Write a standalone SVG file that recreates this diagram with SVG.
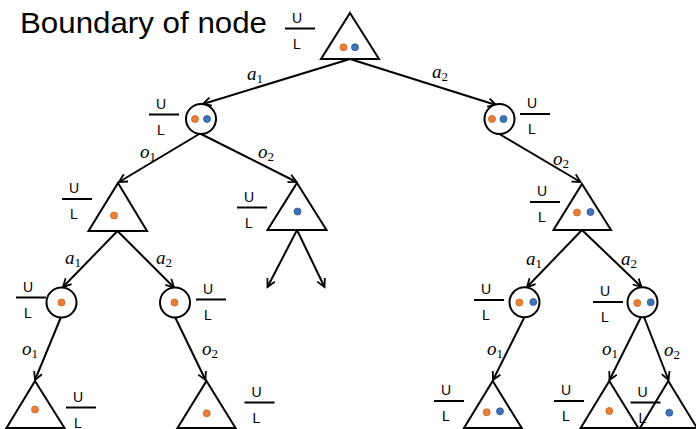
<svg xmlns="http://www.w3.org/2000/svg" width="696" height="429" viewBox="0 0 696 429">
<defs>
<style>
.nd{fill:#fff;stroke:#000;stroke-width:2;stroke-linejoin:miter}
.c{stroke:#000;stroke-width:2;fill:none;marker-end:url(#ah)}
.or{fill:#E8803A;stroke:#C8621E;stroke-width:0.8}
.bl{fill:#3F73B8;stroke:#2B5590;stroke-width:0.8}
.ul line{stroke:#000;stroke-width:2}
.ul text{font-family:"Liberation Sans",Arial,sans-serif;font-size:14px;text-anchor:middle;fill:#000}
.lb{font-family:"Liberation Serif","Times New Roman",serif;font-style:italic;font-size:19px;fill:#000}
.lb tspan.s{font-style:normal;font-size:13px}
.title{font-family:"Liberation Sans",Arial,sans-serif;font-size:30px;fill:#000}
</style>
<marker id="ah" markerUnits="userSpaceOnUse" markerWidth="12" markerHeight="12" refX="9" refY="5" orient="auto">
<path d="M1,0.8 L9,5 L1,9.2" fill="none" stroke="#000" stroke-width="1.8"/>
</marker>
<g id="ulT" class="ul"><line x1="-15" y1="0" x2="15" y2="0"/><text x="-3" y="-6">U</text><text x="-3" y="20">L</text></g>
</defs>
<rect width="696" height="429" fill="#fff"/>
<text class="title" x="20" y="33" textLength="247" lengthAdjust="spacingAndGlyphs">Boundary of node</text>

<g id="connectors">
<line class="c" x1="350" y1="59" x2="203" y2="104"/>
<line class="c" x1="350" y1="59" x2="496" y2="105"/>
<line class="c" x1="200" y1="133.5" x2="119" y2="182"/>
<line class="c" x1="200" y1="133.5" x2="296.5" y2="182"/>
<line class="c" x1="498.5" y1="133.5" x2="580.5" y2="182"/>
<line class="c" x1="117.5" y1="231" x2="63" y2="287"/>
<line class="c" x1="117.5" y1="231" x2="174" y2="287.5"/>
<line class="c" x1="297" y1="230" x2="267.5" y2="287"/>
<line class="c" x1="297" y1="230" x2="324.5" y2="287"/>
<line class="c" x1="582" y1="230" x2="527" y2="287"/>
<line class="c" x1="582" y1="230" x2="641.5" y2="287"/>
<line class="c" x1="61" y1="317" x2="35" y2="380"/>
<line class="c" x1="175" y1="317" x2="205.5" y2="380"/>
<line class="c" x1="524.5" y1="317" x2="493" y2="380"/>
<line class="c" x1="641" y1="317" x2="609.5" y2="380"/>
<line class="c" x1="644" y1="317" x2="668.5" y2="380"/>
</g>

<g id="labels">
<text class="lb" x="247" y="80">a<tspan class="s" dy="3">1</tspan></text>
<text class="lb" x="432" y="78">a<tspan class="s" dy="3">2</tspan></text>
<text class="lb" x="140" y="158">o<tspan class="s" dy="3">1</tspan></text>
<text class="lb" x="258" y="158">o<tspan class="s" dy="3">2</tspan></text>
<text class="lb" x="553" y="165">o<tspan class="s" dy="3">2</tspan></text>
<text class="lb" x="65" y="264">a<tspan class="s" dy="3">1</tspan></text>
<text class="lb" x="156" y="264">a<tspan class="s" dy="3">2</tspan></text>
<text class="lb" x="526" y="265">a<tspan class="s" dy="3">1</tspan></text>
<text class="lb" x="621" y="265">a<tspan class="s" dy="3">2</tspan></text>
<text class="lb" x="22" y="355">o<tspan class="s" dy="3">1</tspan></text>
<text class="lb" x="202" y="355">o<tspan class="s" dy="3">2</tspan></text>
<text class="lb" x="487" y="355">o<tspan class="s" dy="3">1</tspan></text>
<text class="lb" x="602" y="355">o<tspan class="s" dy="3">1</tspan></text>
<text class="lb" x="664" y="356">o<tspan class="s" dy="3">2</tspan></text>
</g>

<g id="n-root">
<polygon class="nd" points="350,13 379,59 321,59"/>
<circle class="or" cx="343.5" cy="47.3" r="3.5"/><circle class="bl" cx="355" cy="47.3" r="3.5"/>
<use href="#ulT" x="300" y="28.5"/>
</g>
<g id="n-o-left">
<circle class="nd" cx="201" cy="119" r="15"/>
<circle class="or" cx="195" cy="119" r="3.5"/><circle class="bl" cx="207" cy="119" r="3.5"/>
<use href="#ulT" x="164" y="114.5"/>
</g>
<g id="n-o-right">
<circle class="nd" cx="499.5" cy="119" r="15"/>
<circle class="or" cx="492" cy="119" r="3.5"/><circle class="bl" cx="503.5" cy="119" r="3.5"/>
<use href="#ulT" x="535" y="114"/>
</g>
<g id="n-t2a">
<polygon class="nd" points="118,183 147,231 88.5,231"/>
<circle class="or" cx="114" cy="215.5" r="3.5"/>
<use href="#ulT" x="77" y="199"/>
</g>
<g id="n-t2b">
<polygon class="nd" points="297,183 326.5,230 267.5,230"/>
<circle class="bl" cx="297.5" cy="211.5" r="3.5"/>
<use href="#ulT" x="252" y="207.5"/>
</g>
<g id="n-t2c">
<polygon class="nd" points="582,184 611,230 553.5,230"/>
<circle class="or" cx="577" cy="212.5" r="3.5"/><circle class="bl" cx="590.5" cy="212" r="3.5"/>
<use href="#ulT" x="545" y="202"/>
</g>
<g id="n-c3a">
<circle class="nd" cx="61.5" cy="302.5" r="15"/>
<circle class="or" cx="61.5" cy="302.5" r="3.5"/>
<use href="#ulT" x="31" y="297.5"/>
</g>
<g id="n-c3b">
<circle class="nd" cx="175" cy="302.5" r="15"/>
<circle class="or" cx="174.5" cy="302.5" r="3.5"/>
<use href="#ulT" x="211" y="299.5"/>
</g>
<g id="n-c3c">
<circle class="nd" cx="524.5" cy="302.3" r="15"/>
<circle class="or" cx="519.3" cy="302.5" r="3.5"/><circle class="bl" cx="533.3" cy="302" r="3.5"/>
<use href="#ulT" x="489" y="300"/>
</g>
<g id="n-c3d">
<circle class="nd" cx="642.5" cy="302.3" r="15"/>
<circle class="or" cx="637.3" cy="303" r="3.5"/><circle class="bl" cx="650.7" cy="302.3" r="3.5"/>
<use href="#ulT" x="608" y="302"/>
</g>
<g id="n-b1">
<polygon class="nd" points="35,381 64.5,428 6.5,428"/>
<circle class="or" cx="35" cy="409.5" r="3.5"/>
<use href="#ulT" x="81" y="407.5"/>
</g>
<g id="n-b2">
<polygon class="nd" points="206.5,381 235.5,428 177.5,428"/>
<circle class="or" cx="206.7" cy="413.3" r="3.5"/>
<use href="#ulT" x="259.5" y="402.5"/>
</g>
<g id="n-b3">
<polygon class="nd" points="492.7,381 521.7,428 464,428"/>
<circle class="or" cx="486.7" cy="412.3" r="3.5"/><circle class="bl" cx="500" cy="411.3" r="3.5"/>
<use href="#ulT" x="449" y="401"/>
</g>
<g id="n-b4">
<polygon class="nd" points="609.3,381 638.3,428 580.7,428"/>
<circle class="or" cx="609.3" cy="411" r="3.5"/>
<use href="#ulT" x="569" y="401"/>
</g>
<g id="n-b5">
<polygon class="nd" points="668.3,381 697,428 640,428"/>
<circle class="bl" cx="669.3" cy="412.7" r="3.5"/>
<use href="#ulT" x="645.5" y="402.5"/>
</g>
</svg>
